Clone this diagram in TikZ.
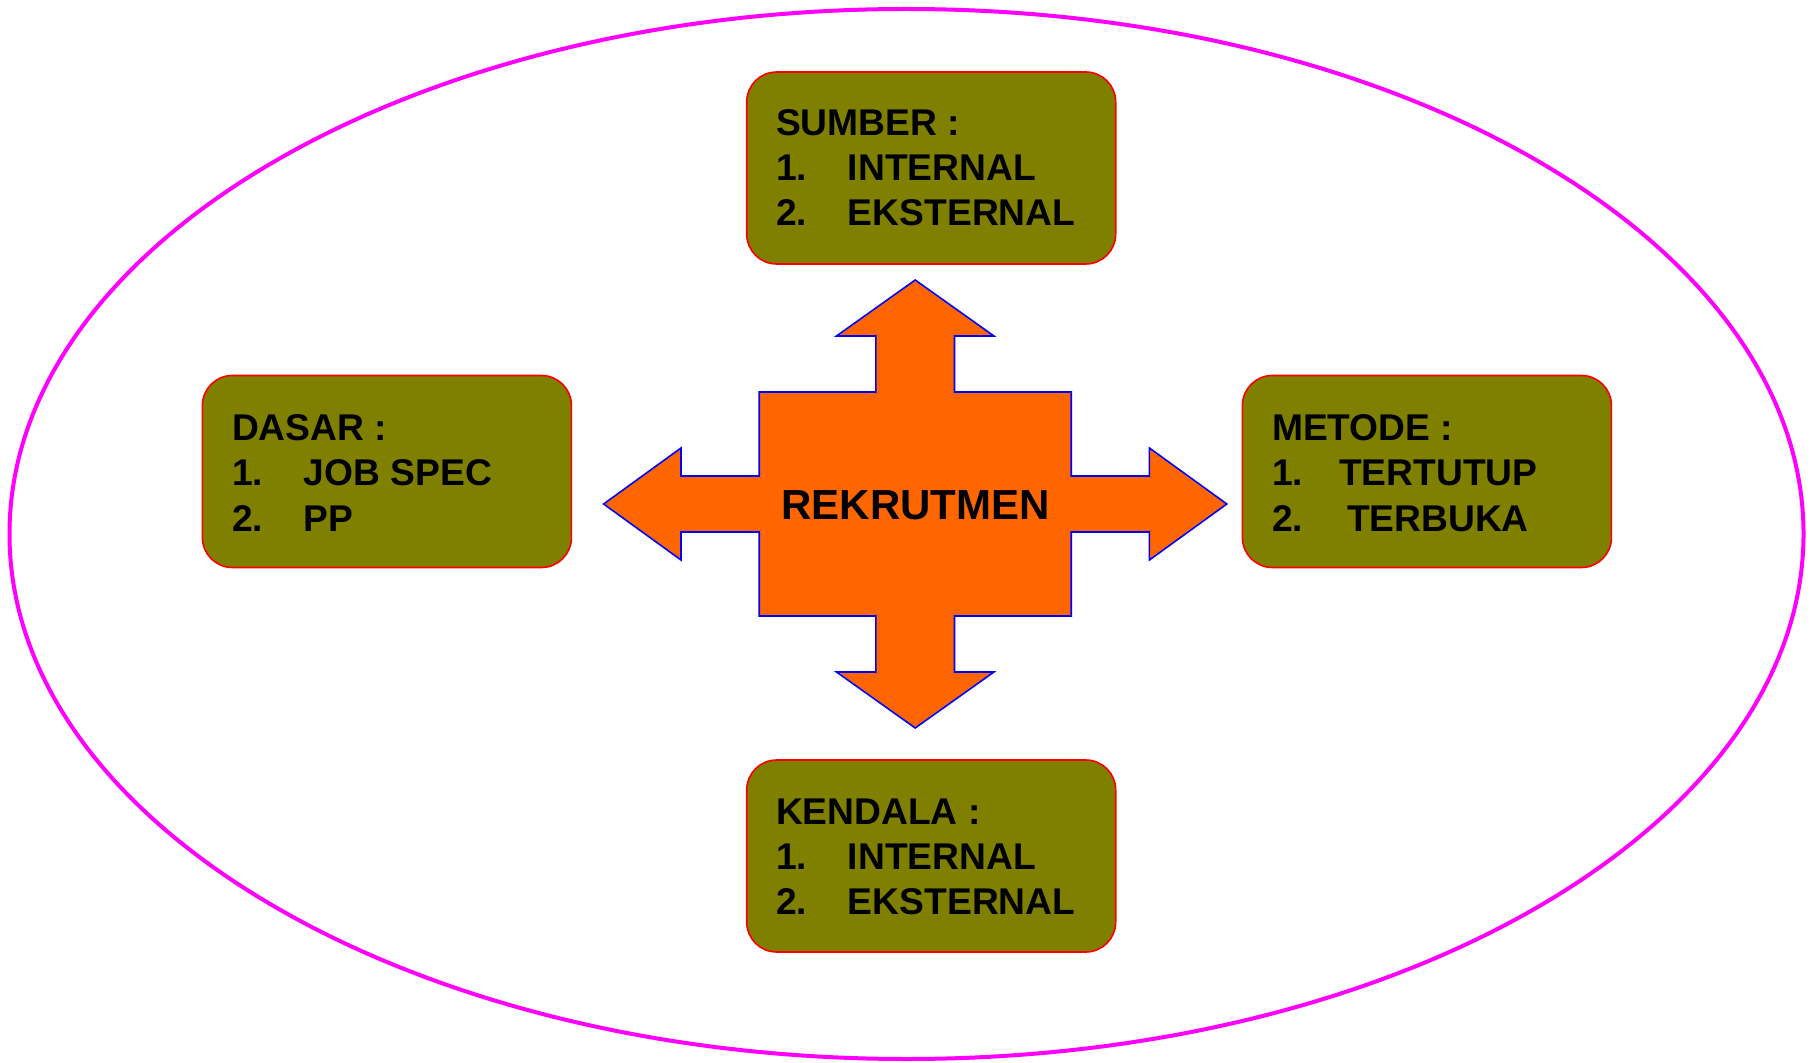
\documentclass[tikz,border=0pt]{standalone}
\usepackage{fontspec}
\setmainfont{Liberation Sans}
\usetikzlibrary{shapes.geometric,calc}
\definecolor{boxolive}{HTML}{808000}
\definecolor{arroworange}{HTML}{FF6600}
\definecolor{ringmagenta}{HTML}{FF00FF}
\newcommand\lineitem[3]{\makebox[#1][l]{#2}#3}
\begin{document}
\begin{tikzpicture}[x=0.5pt,y=-0.5pt,
  infobox/.style={draw=red, line width=0.8pt, fill=boxolive, rounded corners=15pt,
    minimum width=184.5pt, minimum height=96pt, inner sep=0pt, outer sep=0pt},
  infotext/.style={anchor=base west, inner sep=0pt, outer sep=0pt,
    font=\fontsize{18.6}{22}\selectfont\bfseries},
  centertext/.style={inner sep=0pt, font=\fontsize{21}{25}\selectfont\bfseries}]
\useasboundingbox (0,0) rectangle (1813,1063);
% outer ellipse
\node[draw=ringmagenta, line width=2pt, ellipse, minimum width=897pt, minimum height=525pt, inner sep=0pt] (ring) at (906.5,534) {};
% central four-way arrow
\coordinate (c) at (915.2,504);
\draw[draw=blue, line width=0.8pt, fill=arroworange]
  ($(c)+(0,-224)$) -- ($(c)+(78.7,-168)$) -- ($(c)+(39.3,-168)$) -- ($(c)+(39.3,-112)$)
  -- ($(c)+(156,-112)$) -- ($(c)+(156,-28)$) -- ($(c)+(234.2,-28)$) -- ($(c)+(234.2,-56)$)
  -- ($(c)+(311.6,0)$) -- ($(c)+(234.2,56)$) -- ($(c)+(234.2,28)$) -- ($(c)+(156,28)$)
  -- ($(c)+(156,112)$) -- ($(c)+(39.3,112)$) -- ($(c)+(39.3,168)$) -- ($(c)+(78.7,168)$)
  -- ($(c)+(0,224)$) -- ($(c)+(-78.7,168)$) -- ($(c)+(-39.3,168)$) -- ($(c)+(-39.3,112)$)
  -- ($(c)+(-156,112)$) -- ($(c)+(-156,28)$) -- ($(c)+(-234.2,28)$) -- ($(c)+(-234.2,56)$)
  -- ($(c)+(-311.6,0)$) -- ($(c)+(-234.2,-56)$) -- ($(c)+(-234.2,-28)$) -- ($(c)+(-156,-28)$)
  -- ($(c)+(-156,-112)$) -- ($(c)+(-39.3,-112)$) -- ($(c)+(-39.3,-168)$) -- ($(c)+(-78.7,-168)$)
  -- cycle;
\node[centertext, anchor=base] (rek) at (915.5,519.5) {REKRUTMEN};
% boxes
\node[infobox] (sumber) at (931.2,168) {};
\node[infobox] (dasar) at (386.9,471.5) {};
\node[infobox] (metode) at (1426.9,471.5) {};
\node[infobox] (kendala) at (931.2,856) {};
% SUMBER
\node[infotext] (s0) at (776,136) {SUMBER :};
\node[infotext] (s1) at (776,181) {\lineitem{36pt}{1.}{INTERNAL}};
\node[infotext] (s2) at (776,226) {\lineitem{36pt}{2.}{EKSTERNAL}};
% DASAR
\node[infotext] (d0) at (232,441) {DASAR :};
\node[infotext] (d1) at (232,486) {\lineitem{36pt}{1.}{JOB SPEC}};
\node[infotext] (d2) at (232,531) {\lineitem{36pt}{2.}{PP}};
% METODE
\node[infotext] (m0) at (1272,441) {METODE :};
\node[infotext] (m1) at (1272,486) {\lineitem{33.5pt}{1.}{TERTUTUP}};
\node[infotext] (m2) at (1272,531) {\lineitem{37.5pt}{2.}{TERBUKA}};
% KENDALA
\node[infotext] (k0) at (776,824) {KENDALA :};
\node[infotext] (k1) at (776,869) {\lineitem{36pt}{1.}{INTERNAL}};
\node[infotext] (k2) at (776,914) {\lineitem{36pt}{2.}{EKSTERNAL}};
\end{tikzpicture}
\end{document}
